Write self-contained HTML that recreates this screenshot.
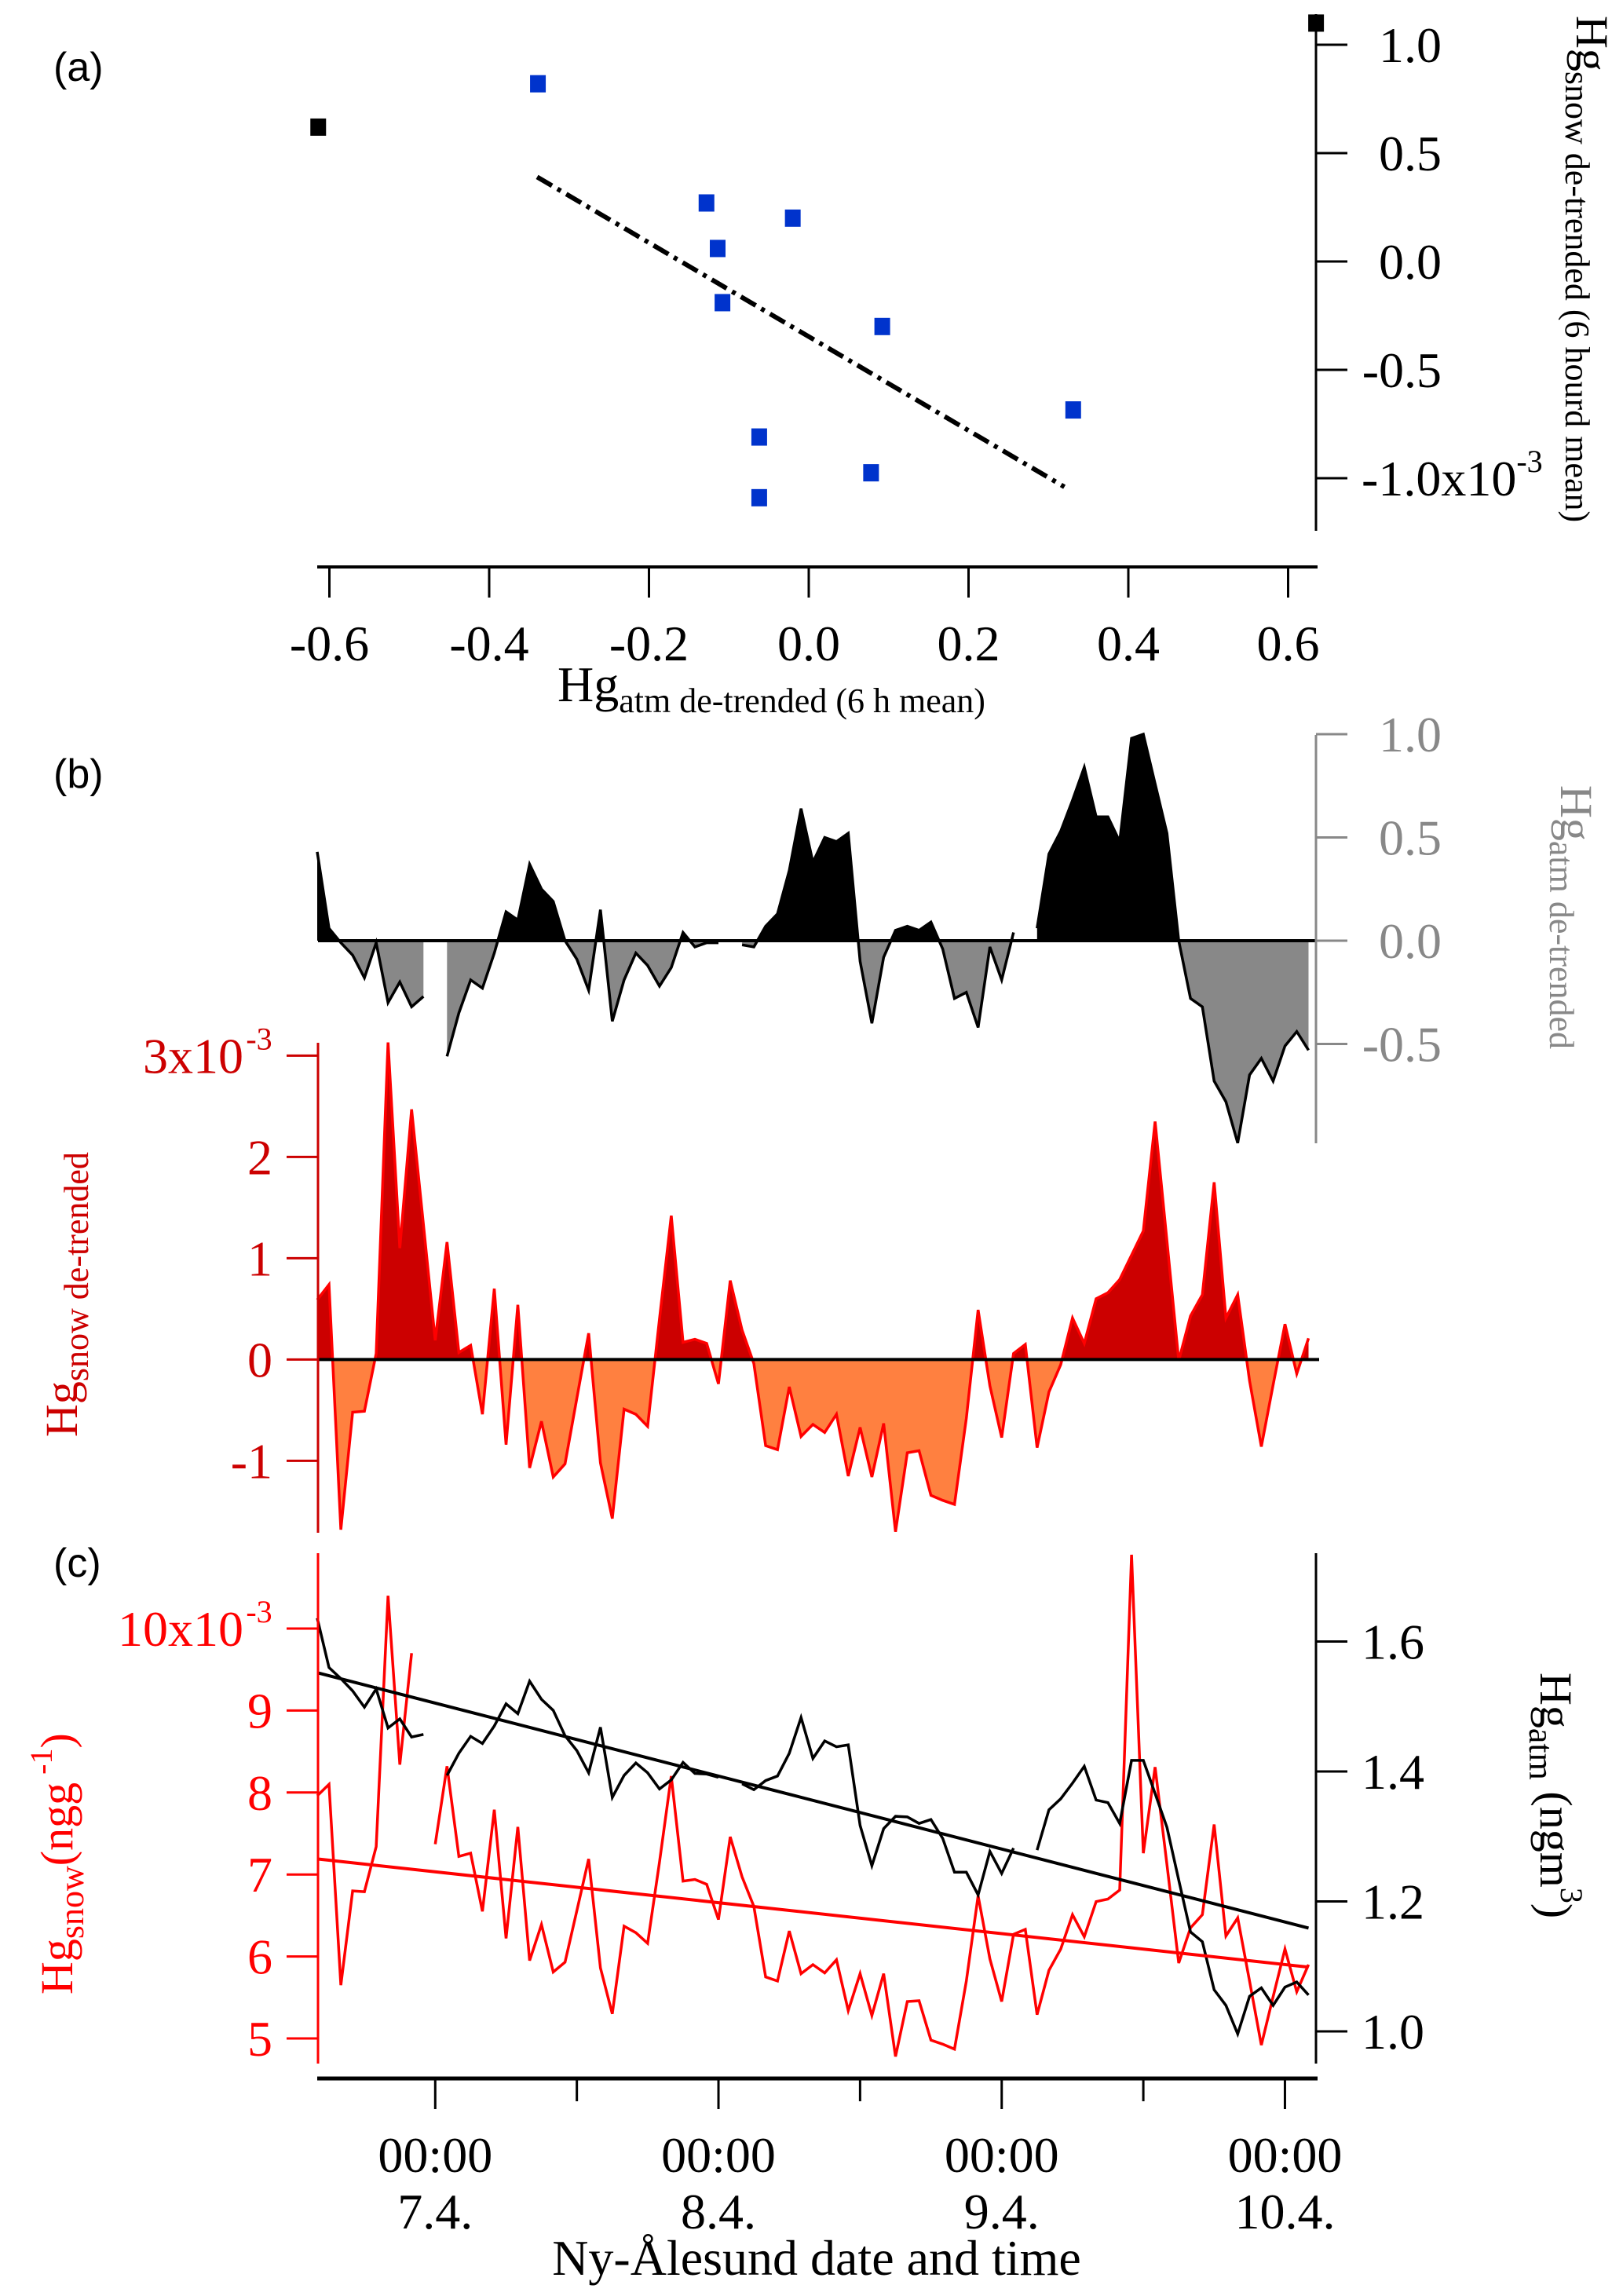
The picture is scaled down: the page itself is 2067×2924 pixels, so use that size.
<!DOCTYPE html>
<html><head><meta charset="utf-8"><title>Hg snow vs atm</title>
<style>
html,body{margin:0;padding:0;background:#fff;}
svg{display:block;font-family:"Liberation Serif",serif;}
.lab{font-family:"Liberation Sans",sans-serif;}
</style></head>
<body>
<svg id="chart" width="2067" height="2924" viewBox="0 0 2067 2924" xmlns="http://www.w3.org/2000/svg">
<defs>
<clipPath id="bAbove"><rect x="0" y="0" width="2067" height="1198"/></clipPath>
<clipPath id="bBelow"><rect x="0" y="1198" width="2067" height="400"/></clipPath>
<clipPath id="rAbove"><rect x="0" y="1200" width="2067" height="531.4"/></clipPath>
<clipPath id="rBelow"><rect x="0" y="1731.4" width="2067" height="300"/></clipPath>
</defs>
<g id="gA"></g>
<g id="gB"></g>
<g id="gC"></g>
<text class="lab" x="68" y="103" font-size="52">(a)</text>
<text class="lab" x="68" y="1003" font-size="52">(b)</text>
<text class="lab" x="68" y="2008" font-size="52">(c)</text>
</svg>
<script>
// ---- Panel (a) scatter data ----
const scatterX = [-0.339, -0.128, -0.020, -0.114, -0.108, 0.092, 0.331, -0.062, 0.078, -0.062];
const scatterY = [0.82, 0.27, 0.20, 0.06, -0.19, -0.30, -0.685, -0.81, -0.975, -1.09];
const outlierX = [-0.614, 0.635];
const outlierY = [0.62, 1.10];
const fitX = [-0.34, 0.32];
const fitY = [0.39, -1.04];
const aXTicks = [-0.6, -0.4, -0.2, 0.0, 0.2, 0.4, 0.6];
const aXTickLabels = ["-0.6", "-0.4", "-0.2", "0.0", "0.2", "0.4", "0.6"];
const aYTicks = [1.0, 0.5, 0.0, -0.5, -1.0];
const aYTickLabels = ["1.0", "0.5", "0.0", "-0.5", "-1.0x10"];

// ---- Time series (hours relative to 7.4. 00:00), hourly ----
const tStart = -10;
const atmDetrended = [0.43,0.06,-0.01,-0.07,-0.18,-0.01,-0.30,-0.20,-0.32,-0.27,null,-0.56,-0.35,-0.19,-0.23,-0.06,0.14,0.10,0.37,0.25,0.19,0.0,-0.09,-0.24,0.15,-0.39,-0.19,-0.06,-0.12,-0.22,-0.13,0.04,-0.03,-0.01,-0.01,null,-0.02,-0.03,0.07,0.13,0.34,0.64,0.38,0.50,0.48,0.52,-0.10,-0.40,-0.08,0.05,0.07,0.05,0.09,-0.04,-0.28,-0.25,-0.42,-0.03,-0.19,0.04,null,0.06,0.42,0.53,0.68,0.84,0.60,0.60,0.48,0.98,1.00,0.76,0.52,0.0,-0.28,-0.32,-0.68,-0.78,-0.98,-0.65,-0.57,-0.68,-0.51,-0.44,-0.53];
const snowDetrended = [0.59,0.74,-1.68,-0.52,-0.51,0.06,3.13,1.10,2.47,1.33,0.19,1.16,0.07,0.14,-0.54,0.70,-0.84,0.54,-1.07,-0.61,-1.16,-1.03,-0.38,0.26,-1.02,-1.57,-0.49,-0.54,-0.66,0.40,1.42,0.17,0.20,0.16,-0.24,0.78,0.29,-0.04,-0.85,-0.89,-0.27,-0.76,-0.64,-0.72,-0.54,-1.15,-0.67,-1.16,-0.63,-1.70,-0.92,-0.90,-1.34,-1.39,-1.43,-0.58,0.49,-0.26,-0.77,0.06,0.15,-0.87,-0.32,-0.05,0.41,0.16,0.60,0.66,0.79,1.03,1.27,2.35,1.17,-0.01,0.43,0.64,1.75,0.41,0.64,-0.21,-0.86,-0.25,0.35,-0.14,0.21];
const snowConc = [7.96,8.10,5.65,6.80,6.79,7.34,10.40,8.34,9.70,null,7.37,8.32,7.22,7.26,6.55,7.79,6.22,7.58,5.95,6.39,5.81,5.93,6.56,7.19,5.86,5.30,6.37,6.29,6.16,7.15,8.20,6.92,6.94,6.88,6.45,7.46,6.97,6.61,5.75,5.70,6.31,5.79,5.90,5.80,5.96,5.34,5.79,5.28,5.79,4.78,5.45,5.46,4.98,4.93,4.87,5.70,6.74,5.97,5.45,6.27,6.33,5.29,5.83,6.09,6.51,6.24,6.67,6.70,6.81,10.9,7.26,8.31,7.12,5.92,6.35,6.51,7.61,6.25,6.47,5.70,4.92,5.51,6.09,5.57,5.90];
const atmConc = [1.636,1.560,1.543,1.524,1.499,1.527,1.467,1.481,1.453,1.457,null,1.394,1.428,1.454,1.443,1.470,1.504,1.489,1.539,1.511,1.494,1.455,1.432,1.398,1.468,1.360,1.394,1.413,1.398,1.373,1.387,1.414,1.397,1.396,1.391,null,1.381,1.372,1.386,1.393,1.428,1.483,1.420,1.447,1.438,1.441,1.317,1.255,1.312,1.331,1.330,1.320,1.326,1.297,1.245,1.245,1.210,1.277,1.243,1.282,null,1.279,1.341,1.358,1.382,1.408,1.356,1.352,1.320,1.417,1.417,1.366,1.314,1.233,1.153,1.138,1.064,1.040,0.996,1.054,1.067,1.040,1.068,1.076,1.056];
const snowTrend = [7.19, 5.87];
const atmTrend = [1.552, 1.159];
const trendT = [-10, 74];
const dayTicks = [0, 24, 48, 72];
const dayTimeLabels = ["00:00", "00:00", "00:00", "00:00"];
const dayDateLabels = ["7.4.", "8.4.", "9.4.", "10.4."];
const minorTicks = [12, 36, 60];
const bAtmTicks = [1.0, 0.5, 0.0, -0.5];
const bAtmTickLabels = ["1.0", "0.5", "0.0", "-0.5"];
const bSnowTicks = [3, 2, 1, 0, -1];
const bSnowTickLabels = ["3x10", "2", "1", "0", "-1"];
const cSnowTicks = [10, 9, 8, 7, 6, 5];
const cSnowTickLabels = ["10x10", "9", "8", "7", "6", "5"];
const cAtmTicks = [1.6, 1.4, 1.2, 1.0];
const cAtmTickLabels = ["1.6", "1.4", "1.2", "1.0"];

// ---- scales ----
const ax = v => 1030 + v * 1017.5;
const ay = v => 333 - v * 276;
const tx = t => 404 + (t + 10) * 15.03;
const bAy = v => 1198 - v * 263;
const bSy = v => 1731.4 - v * 129;
const cSy = v => 2596 - (v - 5) * 104.4;
const cAy = v => 2587 - (v - 1) * 827.5;

const NS = "http://www.w3.org/2000/svg";
function mk(tag, attrs, parent) {
  const e = document.createElementNS(NS, tag);
  for (const k in attrs) e.setAttribute(k, attrs[k]);
  parent.appendChild(e);
  return e;
}
function txt(parent, x, y, s, size, fill, anchor) {
  const e = mk("text", {x: x, y: y, "font-size": size, fill: fill, "text-anchor": anchor || "middle"}, parent);
  e.textContent = s;
  return e;
}
function segments(arr) {
  const segs = []; let cur = [];
  arr.forEach((v, i) => {
    if (v === null) { if (cur.length) segs.push(cur); cur = []; }
    else cur.push([tStart + i, v]);
  });
  if (cur.length) segs.push(cur);
  return segs;
}

// ================= Panel A =================
const gA = document.getElementById("gA");
let e;
e = mk("line", {x1: 404, y1: 722, x2: 1678, y2: 722, stroke: "#000", "stroke-width": 4}, gA);


aXTicks.forEach((v, i) => {
  mk("line", {x1: ax(v), y1: 722, x2: ax(v), y2: 761, stroke: "#000", "stroke-width": 3}, gA);
  const t = txt(gA, ax(v), 841, aXTickLabels[i], 64, "#000");
  
  
});
e = mk("line", {x1: 1676, y1: 18, x2: 1676, y2: 676, stroke: "#000", "stroke-width": 3}, gA);


aYTicks.forEach((v, i) => {
  mk("line", {x1: 1676, y1: ay(v), x2: 1716, y2: ay(v), stroke: "#000", "stroke-width": 3}, gA);
  const long = aYTickLabels[i].length > 4;
  const t = txt(gA, long ? 1734 : 1836, ay(v) + 22, aYTickLabels[i], 64, "#000", long ? "start" : "end");
  
  
  if (long) {
    const s = mk("tspan", {dy: -30, "font-size": 40}, t);
    s.textContent = "-3";
  }
});
// fit line
e = mk("line", {x1: ax(fitX[0]), y1: ay(fitY[0]), x2: ax(fitX[1]), y2: ay(fitY[1]), stroke: "#000", "stroke-width": 6, "stroke-dasharray": "22 8 5 8"}, gA);


scatterX.forEach((x, i) => {
  const r = mk("rect", {x: ax(x) - 10, y: ay(scatterY[i]) - 11, width: 20, height: 22, fill: "#0033cc"}, gA);
  
  
});
outlierX.forEach((x, i) => {
  const r = mk("rect", {x: ax(x) - 10, y: ay(outlierY[i]) - 11, width: 20, height: 22, fill: "#000"}, gA);
  
  
});
e = mk("text", {x: 710, y: 893, "font-size": 64, fill: "#000"}, gA);


e.innerHTML = 'Hg<tspan font-size="44" dy="14">atm de-trended (6 h mean)</tspan>';
e = mk("text", {x: 0, y: 0, "font-size": 58, fill: "#000", transform: "translate(2008,20) rotate(90)"}, gA);


e.innerHTML = 'Hg<tspan font-size="44" dy="14">snow de-trended (6 hourd mean)</tspan>';

// ================= Panel B =================
const gB = document.getElementById("gB");
function areaSeries(g, arr, yfn, zeroY, posFill, negFill, stroke, sw, clipA, clipB, name) {
  segments(arr).forEach(seg => {
    const pts = seg.map(p => tx(p[0]).toFixed(1) + "," + yfn(p[1]).toFixed(1));
    const poly = pts.join(" ") + " " + tx(seg[seg.length - 1][0]).toFixed(1) + "," + zeroY + " " + tx(seg[0][0]).toFixed(1) + "," + zeroY;
    let p1 = mk("polygon", {points: poly, fill: posFill, "clip-path": "url(#" + clipA + ")"}, g);
    
    
    let p2 = mk("polygon", {points: poly, fill: negFill, "clip-path": "url(#" + clipB + ")"}, g);
    
    
    let l = mk("polyline", {points: pts.join(" "), fill: "none", stroke: stroke, "stroke-width": sw}, g);
    
    
  });
}
areaSeries(gB, atmDetrended, bAy, 1198, "#000", "#888", "#000", 3.5, "bAbove", "bBelow", "atm-detrended");
e = mk("line", {x1: 405, y1: 1198, x2: 1676, y2: 1198, stroke: "#000", "stroke-width": 4}, gB);


e = mk("line", {x1: 1676, y1: 936, x2: 1676, y2: 1456, stroke: "#888", "stroke-width": 3}, gB);


bAtmTicks.forEach((v, i) => {
  mk("line", {x1: 1676, y1: bAy(v), x2: 1716, y2: bAy(v), stroke: "#888", "stroke-width": 3}, gB);
  const t = txt(gB, 1836, bAy(v) + 22, bAtmTickLabels[i], 64, "#888", "end");
  
  
});
e = mk("text", {x: 0, y: 0, "font-size": 58, fill: "#888", transform: "translate(1988,1000) rotate(90)"}, gB);


e.innerHTML = 'Hg<tspan font-size="44" dy="14">atm de-trended</tspan>';

areaSeries(gB, snowDetrended, bSy, 1731.4, "#cc0000", "#ff8040", "#ff0000", 3.5, "rAbove", "rBelow", "snow-detrended");
e = mk("line", {x1: 405, y1: 1731.4, x2: 1680, y2: 1731.4, stroke: "#000", "stroke-width": 4}, gB);


e = mk("line", {x1: 405, y1: 1328, x2: 405, y2: 1952, stroke: "#cc0000", "stroke-width": 3}, gB);


bSnowTicks.forEach((v, i) => {
  mk("line", {x1: 365, y1: bSy(v), x2: 405, y2: bSy(v), stroke: "#cc0000", "stroke-width": 3}, gB);
  const long = bSnowTickLabels[i].length > 2;
  const t = txt(gB, long ? 310 : 347, bSy(v) + 22, bSnowTickLabels[i], 64, "#cc0000", "end");
  
  
  if (long) txt(gB, 330, bSy(v) - 8, "-3", 40, "#cc0000", "middle");
});
e = mk("text", {x: 0, y: 0, "font-size": 58, fill: "#cc0000", transform: "translate(98,1830) rotate(-90)"}, gB);


e.innerHTML = 'Hg<tspan font-size="44" dy="14">snow de-trended</tspan>';

// ================= Panel C =================
const gC = document.getElementById("gC");
function lineSeries(g, arr, yfn, color, sw, name) {
  segments(arr).forEach(seg => {
    const pts = seg.map(p => tx(p[0]).toFixed(1) + "," + yfn(p[1]).toFixed(1)).join(" ");
    const l = mk("polyline", {points: pts, fill: "none", stroke: color, "stroke-width": sw}, g);
    
    
  });
}
lineSeries(gC, snowConc, cSy, "#ff0000", 3.5, "snow-hg-line");
lineSeries(gC, atmConc, cAy, "#000", 3.5, "atm-hg-line");
e = mk("line", {x1: tx(trendT[0]), y1: cSy(snowTrend[0]), x2: tx(trendT[1]), y2: cSy(snowTrend[1]), stroke: "#ff0000", "stroke-width": 4}, gC);


e = mk("line", {x1: tx(trendT[0]), y1: cAy(atmTrend[0]), x2: tx(trendT[1]), y2: cAy(atmTrend[1]), stroke: "#000", "stroke-width": 4}, gC);



e = mk("line", {x1: 405, y1: 1978, x2: 405, y2: 2628, stroke: "#ff0000", "stroke-width": 3}, gC);


cSnowTicks.forEach((v, i) => {
  mk("line", {x1: 365, y1: cSy(v), x2: 405, y2: cSy(v), stroke: "#ff0000", "stroke-width": 3}, gC);
  const long = cSnowTickLabels[i].length > 2;
  const t = txt(gC, long ? 310 : 347, cSy(v) + 22, cSnowTickLabels[i], 64, "#ff0000", "end");
  
  
  if (long) txt(gC, 330, cSy(v) - 8, "-3", 40, "#ff0000", "middle");
});
e = mk("text", {x: 0, y: 0, "font-size": 58, fill: "#ff0000", transform: "translate(92,2540) rotate(-90)"}, gC);


e.innerHTML = 'Hg<tspan font-size="44" dy="14">snow</tspan><tspan font-size="58" dy="-14">(ngg</tspan><tspan font-size="40" dy="-26"> -1</tspan><tspan font-size="58" dy="26">)</tspan>';

e = mk("line", {x1: 1676, y1: 1978, x2: 1676, y2: 2628, stroke: "#000", "stroke-width": 3}, gC);


cAtmTicks.forEach((v, i) => {
  mk("line", {x1: 1676, y1: cAy(v), x2: 1716, y2: cAy(v), stroke: "#000", "stroke-width": 3}, gC);
  const t = txt(gC, 1814, cAy(v) + 22, cAtmTickLabels[i], 64, "#000", "end");
  
  
});
e = mk("text", {x: 0, y: 0, "font-size": 58, fill: "#000", transform: "translate(1962,2130) rotate(90)"}, gC);


e.innerHTML = 'Hg<tspan font-size="44" dy="14">atm</tspan><tspan font-size="58" dy="-14"> (ngm</tspan><tspan font-size="40" dy="-26">3</tspan><tspan font-size="58" dy="26">)</tspan>';

// time axis
e = mk("line", {x1: 404, y1: 2647, x2: 1678, y2: 2647, stroke: "#000", "stroke-width": 5}, gC);


dayTicks.forEach((t, i) => {
  mk("line", {x1: tx(t), y1: 2647, x2: tx(t), y2: 2686, stroke: "#000", "stroke-width": 3}, gC);
  let l1 = txt(gC, tx(t), 2766, dayTimeLabels[i], 64, "#000");
  
  
  let l2 = txt(gC, tx(t), 2838, dayDateLabels[i], 64, "#000");
  
  
});
minorTicks.forEach(t => {
  mk("line", {x1: tx(t), y1: 2647, x2: tx(t), y2: 2676, stroke: "#000", "stroke-width": 3}, gC);
});
e = txt(gC, 1040, 2897, "Ny-Ålesund date and time", 64, "#000");


</script>
</body></html>
